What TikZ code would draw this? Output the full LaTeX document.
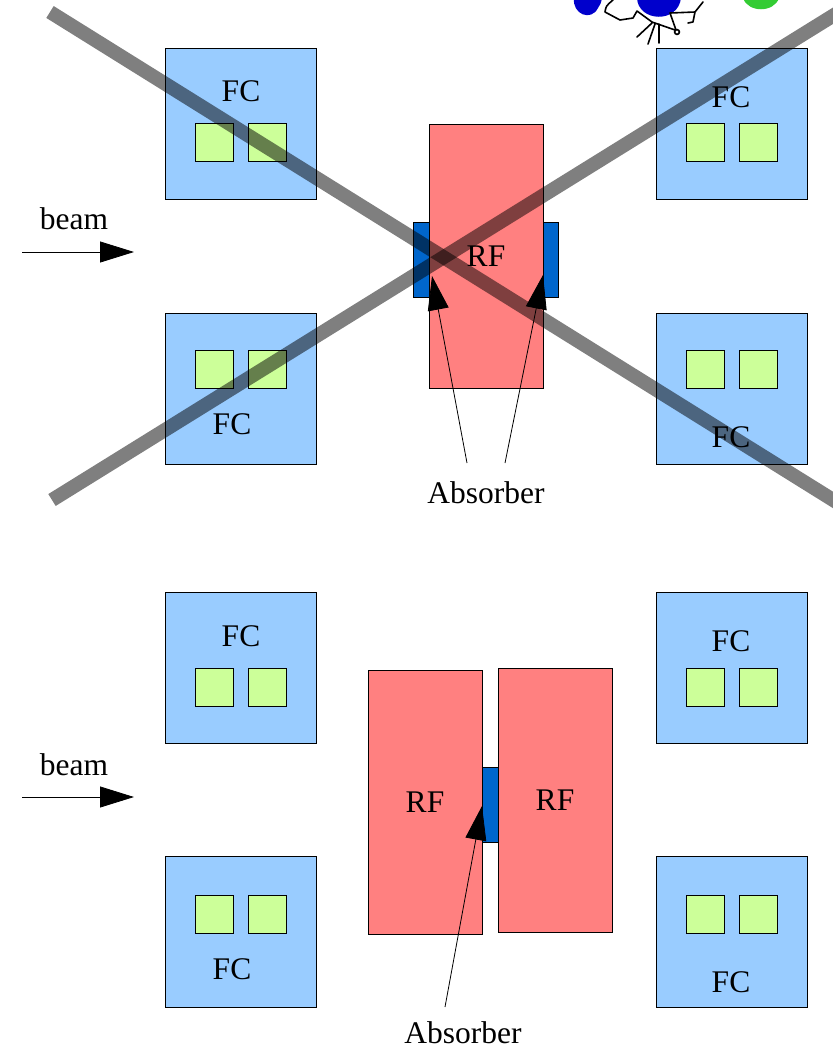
\documentclass[tikz,border=0pt]{standalone}
\usepackage{fontspec}
\setmainfont{Liberation Serif}
\usetikzlibrary{arrows.meta}

\definecolor{fcblue}{HTML}{99CCFF}
\definecolor{padgreen}{HTML}{CCFF99}
\definecolor{rfred}{HTML}{FF8080}
\definecolor{absblue}{HTML}{0066CC}
\definecolor{inkblue}{HTML}{0000CC}
\definecolor{inkgreen}{HTML}{33CC33}

\begin{document}
\begin{tikzpicture}[x=1pt,y=-1pt,
  every node/.style={font=\fontsize{31.5}{36}\selectfont},
  fcbox/.style={draw,line width=0.8pt,fill=fcblue,minimum size=151pt,inner sep=0pt},
  pad/.style={draw,line width=0.8pt,fill=padgreen,minimum size=38pt,inner sep=0pt},
  rfbox/.style={draw,line width=0.8pt,fill=rfred,minimum width=114pt,minimum height=264pt,inner sep=0pt},
  absorber/.style={draw,line width=0.8pt,fill=absblue,minimum width=16pt,minimum height=75pt,inner sep=0pt},
  arr/.style={line width=0.8pt,-{Triangle[length=34pt,width=21pt]}},
  cross/.style={line width=14pt,black,opacity=0.5}]

\useasboundingbox (0,0) rectangle (833,1050);
\clip (0,0) rectangle (833,1050);

% upper layout
\node[fcbox] (fc1) at (240.5,123.5) {};
\node[pad] (p1a) at (214,142.5) {};
\node[pad] (p1b) at (267,142.5) {};
\node (t1) at (241,91) {FC};

\node[fcbox] (fc2) at (731.5,123.5) {};
\node[pad] (p2a) at (705,142.5) {};
\node[pad] (p2b) at (758,142.5) {};
\node (t2) at (731,97) {FC};

\node[fcbox] (fc3) at (240.5,388.5) {};
\node[pad] (p3a) at (214,369) {};
\node[pad] (p3b) at (267,369) {};
\node (t3) at (232,424) {FC};

\node[fcbox] (fc4) at (731.5,388.5) {};
\node[pad] (p4a) at (705,369) {};
\node[pad] (p4b) at (758,369) {};
\node (t4) at (731,437) {FC};

\node[rfbox] (rf1) at (486,256) {RF};
\node[absorber] (ab1) at (421,259.5) {};
\node[absorber,minimum width=15pt] (ab2) at (550.5,259.5) {};

\node (abs1) at (486,493) {Absorber};
\coordinate (a1) at (467,463);
\coordinate (a2) at (505,463);
\coordinate (tip1) at (432,276);
\coordinate (tip2) at (543,275);
\draw[arr] (a1) -- (tip1);
\draw[arr] (a2) -- (tip2);

\node (beam1) at (74,219) {beam};
\coordinate (b1s) at (22,252);
\coordinate (b1e) at (134,252);
\draw[arr] (b1s) -- (b1e);

% crossed out
\coordinate (x1a) at (50,12);
\coordinate (x1b) at (850,510.5);
\coordinate (x2a) at (52,500);
\coordinate (x2b) at (860,-1);
\draw[cross] (x1a) -- (x1b);
\draw[cross] (x2a) -- (x2b);

% doodle, cut by the top edge
\fill[inkblue] (574,-2) .. controls (572,14) and (591,22) .. (598,8) .. controls (601,3) .. (602,-2) -- cycle;
\fill[inkblue] (637,-2) .. controls (638,22) and (678,24) .. (681,-2) -- cycle;
\fill[inkgreen] (743,-2) .. controls (748,13) and (774,13) .. (779,-2) -- cycle;
\draw[line width=1.6pt,line cap=round,line join=round]
  (613,0) .. controls (606,6) .. (605,12) -- (620,20) -- (633,18) -- (637,11)
  (637,11) -- (652,22) -- (675,30)
  (670,13) -- (676,30)
  (670,13) -- (695,12) -- (703,2)
  (695,12) -- (693,22) -- (688,23)
  (652,23) -- (637,37)
  (655,24) -- (648,44)
  (659,24) -- (659,43);
\draw[line width=1.6pt,fill=white] (677,32) circle (2.4);

% lower layout
\node[fcbox] (fc5) at (240.5,668) {};
\node[pad] (p5a) at (214,687) {};
\node[pad] (p5b) at (267,687) {};
\node (t5) at (241,636) {FC};

\node[fcbox] (fc6) at (731.5,668) {};
\node[pad] (p6a) at (705,687) {};
\node[pad] (p6b) at (758,687) {};
\node (t6) at (731,641) {FC};

\node[fcbox] (fc7) at (240.5,932) {};
\node[pad] (p7a) at (214,914) {};
\node[pad] (p7b) at (267,914) {};
\node (t7) at (232,969) {FC};

\node[fcbox] (fc8) at (731.5,932) {};
\node[pad] (p8a) at (705,914) {};
\node[pad] (p8b) at (758,914) {};
\node (t8) at (731,982) {FC};

\node[rfbox] (rf2) at (425,802) {RF};
\node[rfbox] (rf3) at (555,800) {RF};
\node[absorber] (ab3) at (490,804.5) {};

\node[inner sep=1pt] (abs2) at (463,1033) {Absorber};
\coordinate (a3) at (445,1007);
\coordinate (tip3) at (482,806);
\draw[arr] (a3) -- (tip3);

\node (beam2) at (74,765) {beam};
\coordinate (b2s) at (22,797);
\coordinate (b2e) at (134,797);
\draw[arr] (b2s) -- (b2e);

\end{tikzpicture}
\end{document}
